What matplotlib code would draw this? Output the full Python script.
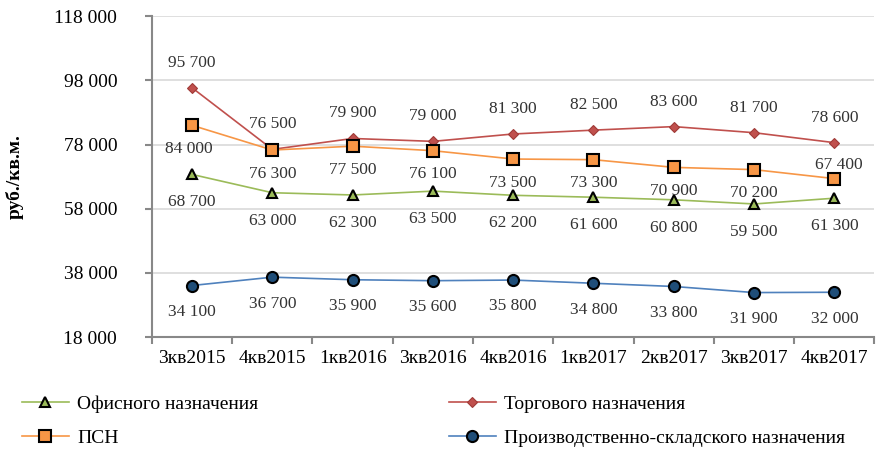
import matplotlib.pyplot as plt
from matplotlib.ticker import FuncFormatter

plt.rcParams['font.family'] = ['Liberation Serif', 'DejaVu Serif']

quarters = ['3кв2015', '4кв2015', '1кв2016', '3кв2016', '4кв2016',
            '1кв2017', '2кв2017', '3кв2017', '4кв2017']
office = [68700, 63000, 62300, 63500, 62200, 61600, 60800, 59500, 61300]
trade = [95700, 76500, 79900, 79000, 81300, 82500, 83600, 81700, 78600]
psn = [84000, 76300, 77500, 76100, 73500, 73300, 70900, 70200, 67400]
warehouse = [34100, 36700, 35900, 35600, 35800, 34800, 33800, 31900, 32000]


def fmt(v, pos=None):
    return f'{int(v):,}'.replace(',', ' ')


fig = plt.figure(figsize=(8.78, 4.49), dpi=100)
ax = fig.add_axes([0.173, 0.249, 0.823, 0.715])
x = list(range(len(quarters)))

l_off, = ax.plot(x, office, color='#9BBB59', lw=1.2, marker='^', ms=7,
                 mfc='#9BBB59', mec='black', mew=1.5, label='Офисного назначения')
l_tr, = ax.plot(x, trade, color='#C0504D', lw=1.2, marker='D', ms=5,
                mfc='#C0504D', mec='#A03A37', mew=0.8, label='Торгового назначения')
l_psn, = ax.plot(x, psn, color='#F79646', lw=1.2, marker='s', ms=8,
                 mfc='#F79646', mec='black', mew=1.5, label='ПСН')
l_wh, = ax.plot(x, warehouse, color='#4F81BD', lw=1.2, marker='o', ms=8,
                mfc='#1F4E79', mec='black', mew=1.5,
                label='Производственно-складского назначения')

lab = dict(fontsize=12.5, color='#333333', ha='center', va='center',
           textcoords='offset points')
for i in x:
    ax.annotate(fmt(trade[i]), (i, trade[i]), xytext=(0, 18), **lab)
    if i == 0:
        ax.annotate(fmt(psn[i]), (i, psn[i]), xytext=(-2, -17), **lab)
    elif i == len(x) - 1:
        ax.annotate(fmt(psn[i]), (i, psn[i]), xytext=(3, 10), **lab)
    else:
        ax.annotate(fmt(psn[i]), (i, psn[i]), xytext=(0, -17), **lab)
    ax.annotate(fmt(office[i]), (i, office[i]), xytext=(0, -20), **lab)
    ax.annotate(fmt(warehouse[i]), (i, warehouse[i]), xytext=(0, -19), **lab)

ax.set_xlim(-0.5, len(x) - 0.5)
ax.set_ylim(18000, 118000)
ax.set_yticks(range(18000, 118001, 20000))
ax.yaxis.set_major_formatter(FuncFormatter(fmt))
ax.set_xticks(x)
ax.set_xticklabels(quarters)
ax.set_xticks([i + 0.5 for i in range(-1, len(x))], minor=True)
ax.tick_params(axis='x', which='major', length=0, labelsize=14, pad=9)
ax.tick_params(axis='x', which='minor', length=5, color='#888888', width=1.5)
ax.tick_params(axis='y', length=5, color='#888888', width=1.5, labelsize=14, pad=20)
ax.grid(axis='y', color='#D9D9D9', lw=1.2)
ax.set_axisbelow(True)
for s in ['top', 'right']:
    ax.spines[s].set_visible(False)
for s in ['left', 'bottom']:
    ax.spines[s].set_color('#888888')
    ax.spines[s].set_linewidth(1.5)
ax.set_ylabel('руб./кв.м.', fontsize=14, fontweight='bold', labelpad=22)

fig.legend(handles=[l_off, l_psn, l_tr, l_wh], ncol=2, loc='lower left',
           bbox_to_anchor=(0.005, -0.035), frameon=False, fontsize=14,
           handlelength=2.4, handletextpad=0.45, columnspacing=9.8,
           labelspacing=0.85)

fig.savefig('out.png', dpi=100)
